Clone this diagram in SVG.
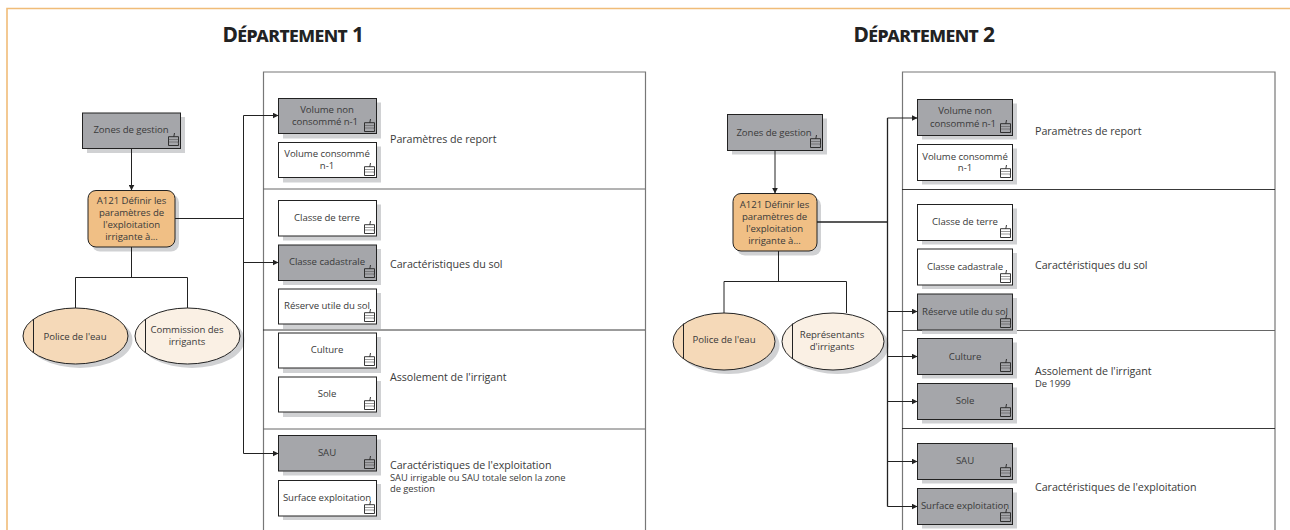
<svg xmlns="http://www.w3.org/2000/svg" width="1290" height="530" viewBox="0 0 1290 530">
<style>
text{font-family:"Open Sans","Noto Sans","Liberation Sans",sans-serif;fill:#3a3a3a;font-size:9.6px;letter-spacing:-.05px}
.c{text-anchor:middle}
.t{font-size:21px;font-weight:700;font-variant:small-caps;fill:#222;text-anchor:middle;letter-spacing:-.6px;font-family:"Noto Sans","Open Sans",sans-serif}
.l{font-size:10.7px}
.s{font-size:9.4px}
.w{fill:#fff;stroke:#222;stroke-width:1}
.g{fill:#a5a6aa;stroke:#222;stroke-width:1}
.sh{fill:#d0d1d3;stroke:none}
.a{fill:#f0bf85;stroke:#222;stroke-width:1}
.e1{fill:#f5d9b8;stroke:#222;stroke-width:1}
.e2{fill:#faf0e4;stroke:#222;stroke-width:1}
.p{fill:none;stroke:#777;stroke-width:1.2}
.d{fill:none;stroke:#666;stroke-width:1}
.n{fill:none;stroke:#222;stroke-width:.9}
.k{fill:none;stroke:#222;stroke-width:1}
.m{fill:none;stroke:#222;stroke-width:1;marker-end:url(#ar)}
.b{marker-end:url(#ar)}
.i{fill:none;stroke:#222;stroke-width:.9}
.j{fill:none;stroke:#555;stroke-width:.6}
</style>
<defs>
<marker id="ar" markerUnits="userSpaceOnUse" markerWidth="6" markerHeight="6" refX="5.5" refY="3" orient="auto"><path d="M0,0.2L5.5,3L0,5.8z" fill="#222"/></marker>
<g id="ic"><path class="i" d="M0.5,1.700H10.500V10.500H0.5zM5.800,1.700L6.500,-2"/><path class="j" d="M1,4.500H10M1,7H10L10.500,9"/></g>
</defs>
<path d="M1290,8.500H7V530" fill="none" stroke="#f0bc78" stroke-width="1.6"/>
<text class="t" x="293" y="41.500">Département 1</text>
<text class="t" x="924" y="41.500">Département 2</text>
<g id="panel-1">
<path class="p" d="M263.500,530V72H645.500V530"/>
<path class="d" d="M263,189H645M263,429H645"/><path class="n" d="M263,330H645"/>
<text class="l" x="390" y="143">Paramètres de report</text>
<text class="l" x="390" y="268">Caractéristiques du sol</text>
<text class="l" x="390" y="381">Assolement de l'irrigant</text>
<text class="l" x="390" y="469">Caractéristiques de l'exploitation</text>
<text class="s" x="390" y="481">SAU irrigable ou SAU totale selon la zone</text>
<text class="s" x="390" y="492">de gestion</text>
</g>
<g id="panel-2">
<path class="p" d="M902.500,530V72H1275V530"/>
<path class="n" d="M902,189.500H1275M902,428.500H1275"/><path class="d" d="M902,330.500H1275"/>
<text class="l" x="1035" y="135">Paramètres de report</text>
<text class="l" x="1035" y="269">Caractéristiques du sol</text>
<text class="l" x="1035" y="375">Assolement de l'irrigant</text>
<text class="s" x="1035" y="387">De 1999</text>
<text class="l" x="1035" y="491">Caractéristiques de l'exploitation</text>
</g>
<g id="n1-zones"><rect class="sh" x="87" y="117" width="98" height="36"/><rect class="g" x="82.500" y="113" width="98" height="35.500"/><text class="c" x="131" y="132.500">Zones de gestion</text><use href="#ic" x="168" y="135"/></g>
<g id="n1-a121"><rect class="sh" x="92" y="194.500" width="87" height="57" rx="8"/><rect class="a" x="88" y="190.500" width="87" height="56.500" rx="8"/><text class="c" x="131.500" y="203.500">A121 Définir les</text><text class="c" x="131.500" y="215.500">paramètres de</text><text class="c" x="131.500" y="228">l'exploitation</text><text class="c" x="131.500" y="239.500">irrigante à...</text></g>
<g id="n1-police"><ellipse class="sh" cx="80" cy="340" rx="52.500" ry="28"/><ellipse class="e1" cx="75.500" cy="336" rx="52.500" ry="28"/><path class="k" d="M33.500,319V352"/><text class="c" x="75" y="339.500">Police de l'eau</text></g>
<g id="n1-commission"><ellipse class="sh" cx="192" cy="340" rx="52.500" ry="28"/><ellipse class="e2" cx="187.500" cy="336" rx="52.500" ry="28"/><path class="k" d="M145.500,319V352"/><text class="c" x="187" y="333">Commission des</text><text class="c" x="187" y="344.500">irrigants</text></g>
<g id="n1-vol-non"><rect class="sh" x="283" y="102.500" width="98" height="36"/><rect class="g" x="278.500" y="98.500" width="98" height="35"/><text class="c" x="327" y="113">Volume non</text><text class="c" x="325" y="125">consommé n-1</text><use href="#ic" x="364" y="121"/></g>
<g id="n1-vol"><rect class="sh" x="283" y="146.500" width="98" height="36"/><rect class="w" x="278.500" y="142.500" width="98" height="35"/><text class="c" x="327" y="157">Volume consommé</text><text class="c" x="327" y="169">n-1</text><use href="#ic" x="364" y="165"/></g>
<g id="n1-terre"><rect class="sh" x="283" y="204.500" width="98" height="36"/><rect class="w" x="278.500" y="200.500" width="98" height="35.500"/><text class="c" x="327" y="221">Classe de terre</text><use href="#ic" x="364" y="223"/></g>
<g id="n1-cadastrale"><rect class="sh" x="283" y="249" width="98" height="36"/><rect class="g" x="278.500" y="245" width="98" height="35.500"/><text class="c" x="327" y="265">Classe cadastrale</text><use href="#ic" x="364" y="267"/></g>
<g id="n1-reserve"><rect class="sh" x="283" y="293" width="98" height="36"/><rect class="w" x="278.500" y="289" width="98" height="35"/><text class="c" x="327" y="309">Réserve utile du sol</text><use href="#ic" x="364" y="311"/></g>
<g id="n1-culture"><rect class="sh" x="283" y="337" width="98" height="36"/><rect class="w" x="278.500" y="333" width="98" height="35"/><text class="c" x="327" y="353">Culture</text><use href="#ic" x="364" y="355"/></g>
<g id="n1-sole"><rect class="sh" x="283" y="381" width="98" height="36"/><rect class="w" x="278.500" y="377" width="98" height="35"/><text class="c" x="327" y="397">Sole</text><use href="#ic" x="364" y="399"/></g>
<g id="n1-sau"><rect class="sh" x="283" y="439.500" width="98" height="36"/><rect class="g" x="278.500" y="435.500" width="98" height="35.500"/><text class="c" x="327" y="456">SAU</text><use href="#ic" x="364" y="458"/></g>
<g id="n1-surface"><rect class="sh" x="283" y="484" width="98" height="36"/><rect class="w" x="278.500" y="480.500" width="98" height="35.500"/><text class="c" x="327" y="501">Surface exploitation</text><use href="#ic" x="364" y="503"/></g>
<g id="n2-zones"><rect class="sh" x="732" y="118.500" width="95" height="36"/><rect class="g" x="727.500" y="114.500" width="95" height="36"/><text class="c" x="774" y="136">Zones de gestion</text><use href="#ic" x="810" y="137"/></g>
<g id="n2-a121"><rect class="sh" x="737" y="197.500" width="84" height="58" rx="8"/><rect class="a" x="733" y="193.500" width="84" height="57.500" rx="8"/><text class="c" x="774.500" y="208">A121 Définir les</text><text class="c" x="774.500" y="220">paramètres de</text><text class="c" x="774.500" y="232">l'exploitation</text><text class="c" x="774.500" y="244">irrigante à...</text></g>
<g id="n2-police"><ellipse class="sh" cx="728.500" cy="345.500" rx="51" ry="28.500"/><ellipse class="e1" cx="724" cy="341.500" rx="51" ry="28.500"/><path class="k" d="M683.500,323.500V359"/><text class="c" x="724" y="342.500">Police de l'eau</text></g>
<g id="n2-rep"><ellipse class="sh" cx="837.500" cy="345.500" rx="51" ry="28.500"/><ellipse class="e2" cx="833" cy="341.500" rx="51" ry="28.500"/><path class="k" d="M792.500,323.500V359"/><text class="c" x="832" y="338">Représentants</text><text class="c" x="832" y="350">d'irrigants</text></g>
<g id="n2-vol-non"><rect class="sh" x="922" y="103.500" width="95" height="36"/><rect class="g" x="917.500" y="99.500" width="95" height="36"/><text class="c" x="965" y="114">Volume non</text><text class="c" x="963" y="127">consommé n-1</text><use href="#ic" x="1000" y="122"/></g>
<g id="n2-vol"><rect class="sh" x="922" y="148.500" width="95" height="36"/><rect class="w" x="917.500" y="144.500" width="95" height="36"/><text class="c" x="965" y="160">Volume consommé</text><text class="c" x="965" y="171">n-1</text><use href="#ic" x="1000" y="167"/></g>
<g id="n2-terre"><rect class="sh" x="922" y="208.500" width="95" height="36"/><rect class="w" x="917.500" y="204.500" width="95" height="36"/><text class="c" x="965" y="225">Classe de terre</text><use href="#ic" x="1000" y="227"/></g>
<g id="n2-cadastrale"><rect class="sh" x="922" y="253" width="95" height="36"/><rect class="w" x="917.500" y="249" width="95" height="36"/><text class="c" x="965" y="270">Classe cadastrale</text><use href="#ic" x="1000" y="272"/></g>
<g id="n2-reserve"><rect class="sh" x="922" y="298" width="95" height="36"/><rect class="g" x="917.500" y="294" width="95" height="36"/><text class="c" x="965" y="315">Réserve utile du sol</text><use href="#ic" x="1000" y="317"/></g>
<g id="n2-culture"><rect class="sh" x="922" y="342.500" width="95" height="36"/><rect class="g" x="917.500" y="338.500" width="95" height="36"/><text class="c" x="965" y="360">Culture</text><use href="#ic" x="1000" y="361"/></g>
<g id="n2-sole"><rect class="sh" x="922" y="387.500" width="95" height="36"/><rect class="g" x="917.500" y="383.500" width="95" height="36"/><text class="c" x="965" y="404">Sole</text><use href="#ic" x="1000" y="406"/></g>
<g id="n2-sau"><rect class="sh" x="922" y="447.500" width="95" height="36"/><rect class="g" x="917.500" y="443.500" width="95" height="36"/><text class="c" x="965" y="464">SAU</text><use href="#ic" x="1000" y="466"/></g>
<g id="n2-surface"><rect class="sh" x="922" y="492.500" width="95" height="36"/><rect class="g" x="917.500" y="488.500" width="95" height="36"/><text class="c" x="965" y="509">Surface exploitation</text><use href="#ic" x="1000" y="511"/></g>
<g id="connectors">
<path class="k b" d="M131.500,148.500V190.500"/>
<path class="k" d="M175,218.500H243.500"/>
<path class="k" d="M243.500,115.500V453.500"/>
<path class="m" d="M243.500,115.500H278.500"/>
<path class="m" d="M243.500,262.500H278.500"/>
<path class="m" d="M243.500,453.500H278.500"/>
<path class="k" d="M131.500,247V277.500M75.500,308V277.500H187.500V308"/>
<path class="k b" d="M775,150.500V193.500"/>
<path class="k" style="stroke-width:1.500" d="M817,222H887.500"/>
<path class="k" style="stroke-width:1.300" d="M887.500,118V506.500"/>
<path class="m" d="M887.500,118H917.500"/>
<path class="m" d="M887.500,311.500H917.500"/>
<path class="m" d="M887.500,356.500H917.500"/>
<path class="m" d="M887.500,401.500H917.500"/>
<path class="m" d="M887.500,461.500H917.500"/>
<path class="m" d="M887.500,506.500H917.500"/>
<path class="k" d="M778.500,251V281.500M724,313V281.500H846.500V313"/>
</g>
</svg>
